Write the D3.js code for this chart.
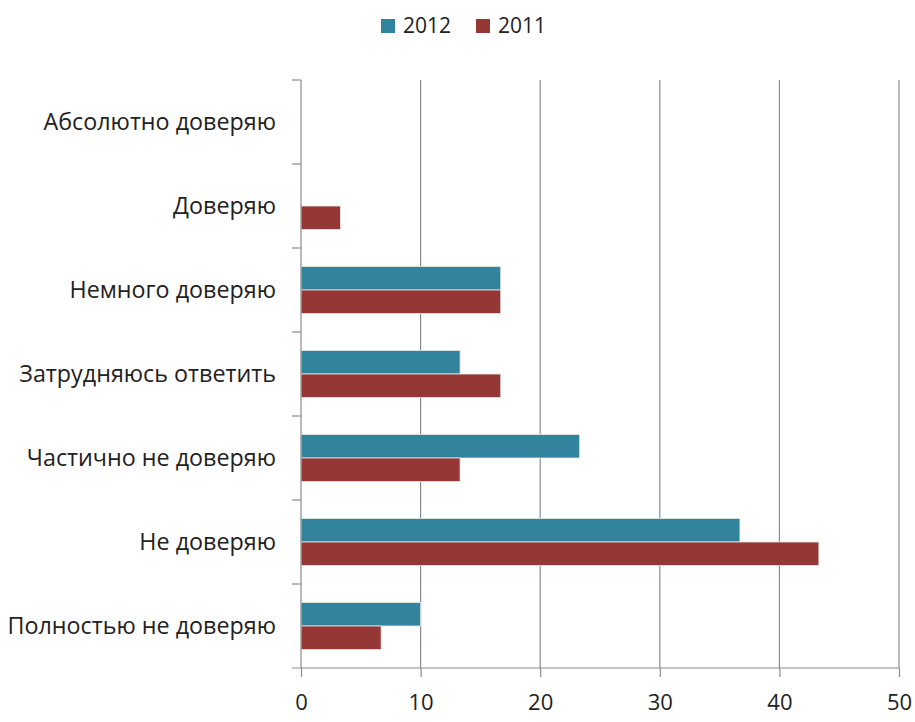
<!DOCTYPE html>
<html>
<head>
<meta charset="utf-8">
<script src="https://cdn.jsdelivr.net/npm/d3@7"></script>
<style>
body { margin: 0; background: #fff; }
text { font-family: "Open Sans", sans-serif; fill: #222; }
</style>
</head>
<body>
<script>
var categories = ['Абсолютно доверяю', 'Доверяю', 'Немного доверяю', 'Затрудняюсь ответить',
	'Частично не доверяю', 'Не доверяю', 'Полностью не доверяю'];
var series = ['2012', '2011'];
var values2012 = [0, 0, 16.7, 13.3, 23.3, 36.7, 10];
var values2011 = [0, 3.3, 16.7, 16.7, 13.3, 43.3, 6.7];
var xTicks = [0, 10, 20, 30, 40, 50];
var colors = ['#31849b', '#953735'];

var width = 915, height = 722;
var plotLeft = 301, plotRight = 899, plotTop = 80, plotBottom = 668;

var svg = d3.select('body').append('svg').attr('width', width).attr('height', height);

var x = d3.scaleLinear().domain([0, 50]).range([plotLeft, plotRight]);
var y = d3.scaleBand().domain(categories).range([plotTop, plotBottom]);
var inner = d3.scaleBand().domain(series).range([(y.bandwidth() - 47) / 2, (y.bandwidth() + 47) / 2]);

// vertical gridlines
svg.append('g').selectAll('line').data(xTicks.slice(1)).enter().append('line')
	.attr('x1', function(d) { return x(d); }).attr('x2', function(d) { return x(d); })
	.attr('y1', plotTop).attr('y2', plotBottom)
	.attr('stroke', '#8c8c8c').attr('stroke-width', 1.2);

var data = [];
categories.forEach(function(c, i) {
	data.push({ cat: c, s: '2012', v: values2012[i], color: colors[0] });
	data.push({ cat: c, s: '2011', v: values2011[i], color: colors[1] });
});

svg.append('g').selectAll('rect').data(data.filter(function(d) { return d.v > 0; })).enter().append('rect')
	.attr('x', x(0))
	.attr('y', function(d) { return y(d.cat) + inner(d.s); })
	.attr('width', function(d) { return x(d.v) - x(0); })
	.attr('height', inner.bandwidth())
	.attr('fill', function(d) { return d.color; })
	.attr('stroke', '#e8e8e8').attr('stroke-width', 0.8);

// x axis
var xAxis = d3.axisBottom(x).tickValues(xTicks).tickSize(9).tickPadding(17);
var gx = svg.append('g').attr('transform', 'translate(0,' + plotBottom + ')').call(xAxis);
gx.select('.domain').attr('d', 'M' + (plotLeft - 9) + ',0H' + plotRight).attr('stroke', '#8c8c8c').attr('stroke-width', 1.2);
gx.selectAll('.tick line').attr('stroke', '#8c8c8c').attr('stroke-width', 1.2);
gx.selectAll('.tick text').attr('font-size', '22px').attr('font-family', '"Open Sans", sans-serif').attr('fill', '#222');

// y axis
var gy = svg.append('g').attr('transform', 'translate(' + plotLeft + ',0)');
gy.append('line').attr('x1', 0).attr('x2', 0).attr('y1', plotTop).attr('y2', plotBottom)
	.attr('stroke', '#8c8c8c').attr('stroke-width', 1.2);
var yTicks = categories.map(function(c) { return y(c); });
gy.selectAll('line.t').data(yTicks).enter().append('line').attr('class', 't')
	.attr('x1', -9).attr('x2', 0)
	.attr('y1', function(d) { return d; }).attr('y2', function(d) { return d; })
	.attr('stroke', '#8c8c8c').attr('stroke-width', 1.2);
gy.selectAll('text').data(categories).enter().append('text')
	.attr('x', -25)
	.attr('y', function(d) { return y(d) + y.bandwidth() / 2; })
	.attr('dy', '0.35em')
	.attr('text-anchor', 'end')
	.attr('font-size', '23.3px')
	.text(function(d) { return d; });

// legend
var legend = svg.append('g');
var lx = [381, 476];
series.forEach(function(s, i) {
	legend.append('rect').attr('x', lx[i]).attr('y', 19).attr('width', 14).attr('height', 14).attr('fill', colors[i]);
	legend.append('text').attr('x', lx[i] + 22).attr('y', 26).attr('dy', '0.35em')
		.attr('font-size', '21px').text(s);
});
</script>
</body>
</html>
